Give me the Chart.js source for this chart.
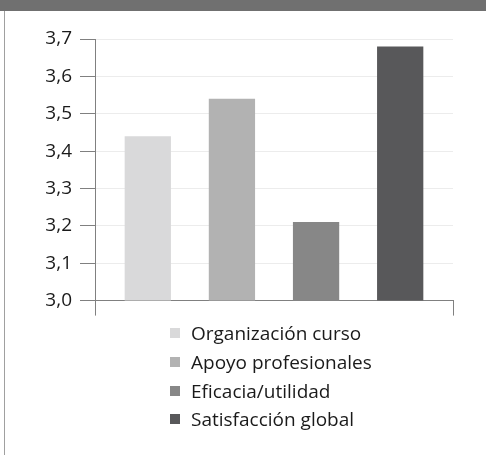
<!DOCTYPE html>
<html>
<head>
<meta charset="utf-8">
<script src="https://cdn.jsdelivr.net/npm/chart.js@4"></script>
<style>
  body { margin: 0; background: #fff; width: 486px; height: 455px; overflow: hidden; position: relative; }
  #header { position: absolute; left: 0; top: 0; width: 486px; height: 11px; background: #707070; }
  #frame { position: absolute; left: 4px; top: 11px; width: 1px; height: 444px; background: #a0a0a0; }
  #wrap { position: absolute; left: 0; top: 0; width: 486px; height: 320px; }
  #legend { position: absolute; left: 170px; top: 319px; font-family: "Open Sans", sans-serif; font-size: 19px; color: #1a1a1a; }
  .item { height: 28.7px; display: flex; align-items: center; }
  .box { width: 10px; height: 10px; margin-right: 11px; }
</style>
</head>
<body>
<div id="header"></div>
<div id="frame"></div>
<div id="wrap"><canvas id="chart1"></canvas></div>
<div id="legend"></div>
<script>
const categories = [''];
const seriesNames = ['Organización curso', 'Apoyo profesionales', 'Eficacia/utilidad', 'Satisfacción global'];
const seriesValues = [3.44, 3.54, 3.21, 3.68];
const seriesColors = ['#d9d9da', '#b2b2b2', '#878787', '#58585a'];

const ctx1 = document.getElementById('chart1').getContext('2d');

new Chart(ctx1, {
  type: 'bar',
  data: {
    labels: categories,
    datasets: seriesNames.map((name, i) => ({
      label: name,
      data: [seriesValues[i]],
      backgroundColor: seriesColors[i],
      borderWidth: 0,
      categoryPercentage: 0.94,
      barPercentage: 0.55
    }))
  },
  options: {
    responsive: true,
    maintainAspectRatio: false,
    animation: false,
    layout: { padding: { top: 39, right: 33, left: 0, bottom: 0 } },
    plugins: {
      legend: { display: false },
      tooltip: { enabled: false }
    },
    scales: {
      x: {
        grid: { offset: true, drawOnChartArea: false, tickLength: 15, tickColor: '#808080' },
        border: { color: '#808080', width: 1 },
        ticks: { display: false },
        afterFit: (scale) => { scale.height = 17; }
      },
      y: {
        min: 3.0,
        max: 3.7,
        ticks: {
          stepSize: 0.1,
          padding: 8,
          color: '#1a1a1a',
          font: { family: 'Open Sans', size: 19 },
          callback: (v) => v.toFixed(1).replace('.', ',')
        },
        grid: { color: '#ececec', tickColor: '#808080', tickLength: 15 },
        border: { color: '#808080', width: 1 },
        afterFit: (scale) => { scale.width = 95; }
      }
    }
  }
});

// legend, one item per row
const legendEl = document.getElementById('legend');
seriesNames.forEach((name, i) => {
  const row = document.createElement('div');
  row.className = 'item';
  row.innerHTML = '<span class="box" style="background:' + seriesColors[i] + '"></span><span>' + name + '</span>';
  legendEl.appendChild(row);
});
</script>
</body>
</html>
